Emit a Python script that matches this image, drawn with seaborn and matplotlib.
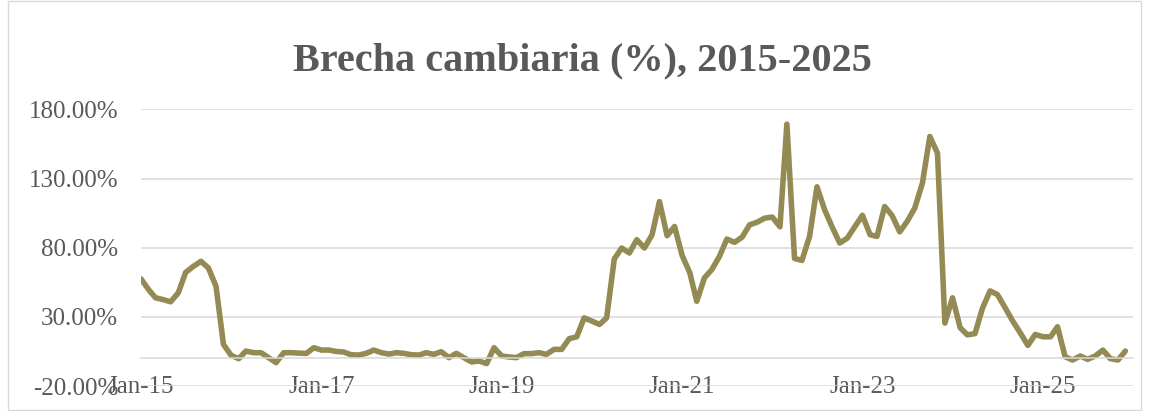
import matplotlib.pyplot as plt
import matplotlib.ticker as mticker
from matplotlib.patches import Rectangle
import seaborn as sns
import pandas as pd
import numpy as np

# Monthly exchange-rate gap (%), Jan 2015 - Dec 2025
gap_2015 = [57.5, 49.7, 43.8, 42.5, 40.9, 47.4, 62.2, 66.5, 70.2, 65.4, 52.1, 10.1]
gap_2016 = [2.2, -0.2, 5.3, 4.1, 4.1, 0.5, -3.1, 4.1, 4.1, 3.8, 3.6, 7.7]
gap_2017 = [6.0, 6.0, 5.0, 4.6, 2.6, 2.4, 3.6, 6.0, 4.1, 3.1, 4.1, 3.6]
gap_2018 = [2.6, 2.4, 4.1, 2.9, 4.8, 0.5, 3.6, 0.5, -2.6, -1.9, -3.8, 7.7]
gap_2019 = [1.7, 1.0, 0.5, 3.4, 3.4, 4.1, 2.9, 6.5, 6.5, 14.2, 15.6, 29.3]
gap_2020 = [27.0, 24.5, 29.3, 71.9, 79.8, 76.2, 85.8, 79.8, 89.4, 113.4, 88.7, 95.4]
gap_2021 = [74.3, 61.8, 41.3, 58.2, 64.2, 73.8, 86.3, 83.9, 87.7, 96.6, 98.5, 101.4]
gap_2022 = [102.2, 95.2, 169.4, 72.3, 70.8, 88.2, 124.1, 107.4, 94.8, 83.4, 87.0, 95.2]
gap_2023 = [103.5, 89.4, 88.2, 109.8, 103.4, 91.5, 99.0, 108.7, 126.8, 160.5, 148.5, 25.5]
gap_2024 = [43.8, 22.1, 17.0, 17.9, 36.2, 48.8, 46.1, 36.6, 26.9, 18.5, 9.4, 17.3]
gap_2025 = [15.6, 15.6, 22.9, 1.2, -1.2, 1.7, -0.7, 1.7, 6.0, -0.2, -1.2, 5.3]

x_tick_labels = ["Jan-15", "Jan-17", "Jan-19", "Jan-21", "Jan-23", "Jan-25"]
y_ticks = [-20, 30, 80, 130, 180]

values = (gap_2015 + gap_2016 + gap_2017 + gap_2018 + gap_2019 + gap_2020
          + gap_2021 + gap_2022 + gap_2023 + gap_2024 + gap_2025)
df = pd.DataFrame({
    'fecha': pd.date_range('2015-01-01', periods=len(values), freq='MS'),
    'brecha': values,
})

sns.set_style('white')
plt.rcParams['font.family'] = ['Liberation Serif', 'DejaVu Serif']

GRAY = '#d9d9d9'
TEXT = '#595959'

fig = plt.figure(figsize=(11.49, 4.11), dpi=100)
ax = fig.add_axes([0.1227, 0.0608, 0.8634, 0.6728])

sns.lineplot(data=df, x='fecha', y='brecha', ax=ax, color='#948A54',
             linewidth=4.0, solid_capstyle='round', solid_joinstyle='round')

ax.set_xlim(pd.Timestamp('2015-01-01'), pd.Timestamp('2026-01-01'))
ax.set_ylim(-20, 180)

tick_dates = pd.to_datetime(['01-' + t for t in x_tick_labels], format='%d-%b-%y')
ax.set_xticks(tick_dates)
ax.set_xticklabels(x_tick_labels)
ax.set_yticks(y_ticks)
ax.yaxis.set_major_formatter(mticker.FuncFormatter(lambda v, _: f'{v:.2f}%'))

ax.set_xlabel('')
ax.set_ylabel('')
ax.grid(True, axis='y', color=GRAY, linewidth=1.1)
ax.grid(False, axis='x')
for side in ['left', 'top', 'right']:
    ax.spines[side].set_visible(False)
ax.spines['bottom'].set_position(('data', 0))
ax.spines['bottom'].set_color(GRAY)
ax.spines['bottom'].set_linewidth(1.1)

ax.tick_params(axis='x', direction='out', length=6.5, width=1.1, color=GRAY,
               labelcolor=TEXT, labelsize=18, pad=6)
ax.tick_params(axis='y', length=0, labelcolor=TEXT, labelsize=18, pad=16.5)

fig.text(0.507, 1 - 70 / 411, 'Brecha cambiaria (%), 2015-2025', ha='center',
         va='baseline', fontsize=29, fontweight='bold', color=TEXT)

fig.patches.append(Rectangle((8 / 1149, 1 / 411), 1133 / 1149, 409 / 411,
                             transform=fig.transFigure, fill=False,
                             edgecolor=GRAY, linewidth=1))

fig.savefig('out.png', dpi=100)
